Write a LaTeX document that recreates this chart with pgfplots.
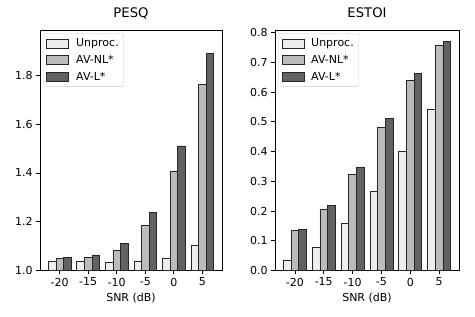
\documentclass[border=0pt]{standalone}
\usepackage{fontspec}
\setmainfont{DejaVu Sans}
\usepackage{pgfplots}
\pgfplotsset{compat=1.18}
\definecolor{cU}{HTML}{EEEEEE}
\definecolor{cN}{HTML}{BBBBBB}
\definecolor{cL}{HTML}{626262}
\pgfplotsset{
  mystyle/.style={
    scale only axis, ybar, bar width=0.2667,
    legend image code/.code={\draw[##1, sharp corners] (0bp,-4.5bp) rectangle (22bp,4.5bp);},
    xmin=-0.69, xmax=5.69,
    xtick={0,...,5}, xticklabels={-20,-15,-10,-5,0,5},
    tick pos=left, tick align=outside, major tick length=3.85bp,
    tick style={black, line width=0.8bp},
    axis line style={black, line width=0.8bp},
    /pgf/number format/assume math mode=true,
    ticklabel style={font=\fontsize{11bp}{13bp}\selectfont},
    yticklabel style={/pgf/number format/.cd, fixed, fixed zerofill, precision=1},
    xlabel={SNR (dB)},
    label style={font=\fontsize{11bp}{13bp}\selectfont},
    title style={font=\fontsize{13.2bp}{15bp}\selectfont, at={(0.5,1)}, anchor=base, yshift=6.6bp},
    legend style={at={(0.018,0.985)}, anchor=north west, draw=black!20, rounded corners=2bp,
      fill=white, font=\fontsize{11bp}{13bp}\selectfont, inner xsep=3bp, inner ysep=3bp,
      row sep=3bp,
      /tikz/every odd column/.append style={column sep=5bp}},
    legend cell align=left,
    every axis plot/.append style={draw=black!85, line width=0.7bp},
  }
}
\begin{document}
\begin{tikzpicture}
\useasboundingbox (0,0) rectangle (475bp,317bp);
\begin{axis}[mystyle, at={(40bp,46.5bp)}, anchor=south west, width=182bp, height=240.5bp,
  ymin=1, ymax=1.986, ytick={1.0,1.2,1.4,1.6,1.8}, title={PESQ}]
\addplot[fill=cU, bar shift=-0.2667] coordinates {(0,1.039) (1,1.039) (2,1.034) (3,1.039) (4,1.051) (5,1.104)};
\addplot[fill=cN, bar shift=0] coordinates {(0,1.048) (1,1.055) (2,1.084) (3,1.184) (4,1.408) (5,1.762)};
\addplot[fill=cL, bar shift=0.2667] coordinates {(0,1.052) (1,1.064) (2,1.110) (3,1.238) (4,1.511) (5,1.891)};
\legend{Unproc., AV-NL*, AV-L*}
\end{axis}
\begin{axis}[mystyle, at={(275bp,46.5bp)}, anchor=south west, width=184bp, height=240.5bp,
  ymin=0, ymax=0.8085, ytick={0,0.1,...,0.8}, title={ESTOI}]
\addplot[fill=cU, bar shift=-0.2667] coordinates {(0,0.034) (1,0.079) (2,0.158) (3,0.266) (4,0.399) (5,0.541)};
\addplot[fill=cN, bar shift=0] coordinates {(0,0.134) (1,0.206) (2,0.324) (3,0.481) (4,0.639) (5,0.756)};
\addplot[fill=cL, bar shift=0.2667] coordinates {(0,0.138) (1,0.220) (2,0.348) (3,0.511) (4,0.662) (5,0.770)};
\legend{Unproc., AV-NL*, AV-L*}
\end{axis}
\end{tikzpicture}
\end{document}
